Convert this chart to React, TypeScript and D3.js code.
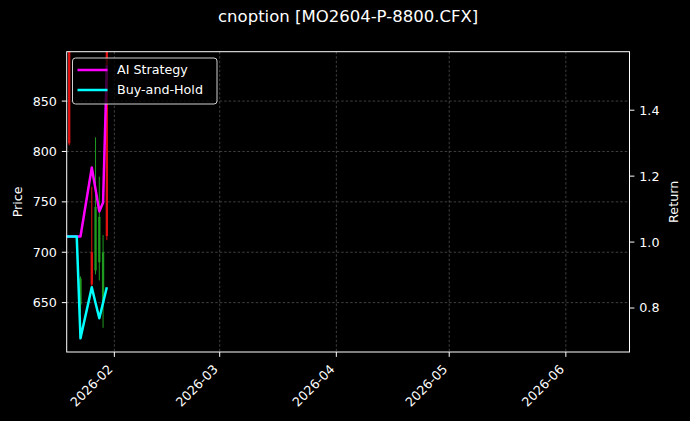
import * as d3 from "d3"

// daily series (trading days)
const dates = [
  "2026-01-19", "2026-01-20", "2026-01-21", "2026-01-22", "2026-01-23",
  "2026-01-26", "2026-01-27", "2026-01-28", "2026-01-29", "2026-01-30",
]
const aiStrategy = [1.017, 1.017, 1.017, 1.017, 1.017, 1.226, 1.16, 1.093, 1.12, 1.536]
const buyHold = [1.017, 1.017, 1.017, 1.017, 0.708, 0.863, 0.815, 0.769, 0.816, 0.863]

// candles (price axis)
const candleDates = ["2026-01-20", "2026-01-23", "2026-01-26", "2026-01-27", "2026-01-28", "2026-01-29", "2026-01-30"]
const openP = [905, 648, 700, 682, 690, 650, 905]
const highP = [915, 676, 765, 814, 775, 717, 915]
const lowP = [806, 640, 666, 678, 672, 625, 712]
const closeP = [808, 674, 668, 745, 735, 700, 716]

const xLimits = ["2026-01-19T08:00", "2026-06-17T22:00"]
const priceLimits = [601, 899]

const W = 690
const H = 421
const m = { top: 51.7, right: 60.5, bottom: 69, left: 66.7 }
const font = "DejaVu Sans, sans-serif"
const tickLen = 4.9
const tickPad = 9.8

export default function App() {
  const x = d3
    .scaleTime()
    .domain(xLimits.map((d) => new Date(d)))
    .range([m.left, W - m.right])

  const yL = d3.scaleLinear().domain(priceLimits).range([H - m.bottom, m.top])

  const allRet = [...aiStrategy, ...buyHold]
  const rMin = d3.min(allRet) ?? 0
  const rMax = d3.max(allRet) ?? 1
  const pad = (rMax - rMin) * 0.05
  const yR = d3.scaleLinear().domain([rMin - pad, rMax + pad]).range([H - m.bottom, m.top])

  const xTicks = d3.timeMonth.range(x.domain()[0], x.domain()[1])
  const yLTicks = yL.ticks(6)
  const yRTicks = yR.ticks(5)

  const line = (vals: number[]) =>
    d3
      .line<number>()
      .x((_, i) => x(new Date(dates[i])))
      .y((d) => yR(d))(vals) ?? ""

  const x0 = m.left
  const x1 = W - m.right
  const y0 = m.top
  const y1 = H - m.bottom
  const bodyW = 2.3

  return (
    <svg
      width={W}
      height={H}
      style={{ position: "absolute", left: 0, top: 0, background: "#000" }}
      fontFamily={font}
    >
      <defs>
        <clipPath id="plot">
          <rect x={x0} y={y0} width={x1 - x0} height={y1 - y0} />
        </clipPath>
      </defs>
      <rect x={0} y={0} width={W} height={H} fill="#000" />

      <text x={(x0 + x1) / 2} y={22} fill="#fff" fontSize={16.5} textAnchor="middle">
        cnoption [MO2604-P-8800.CFX]
      </text>

      {/* grid */}
      {yLTicks.map((d) => (
        <line key={"gy" + d} x1={x0} x2={x1} y1={yL(d)} y2={yL(d)} stroke="#5a5a5a" strokeWidth={0.7} strokeDasharray="2.5,2" />
      ))}
      {xTicks.map((d, i) => (
        <line key={"gx" + i} x1={x(d)} x2={x(d)} y1={y0} y2={y1} stroke="#5a5a5a" strokeWidth={0.7} strokeDasharray="2.5,2" />
      ))}

      {/* candles */}
      <g clipPath="url(#plot)">
        {candleDates.map((d, i) => {
          const cx = x(new Date(d))
          const up = closeP[i] >= openP[i]
          const col = up ? "#1f9a1f" : "#e01010"
          return (
            <g key={"c" + i}>
              <line x1={cx} x2={cx} y1={yL(highP[i])} y2={yL(lowP[i])} stroke={col} strokeWidth={1} />
              <rect
                x={cx - bodyW / 2}
                y={yL(Math.max(openP[i], closeP[i]))}
                width={bodyW}
                height={Math.abs(yL(openP[i]) - yL(closeP[i]))}
                fill={col}
              />
            </g>
          )
        })}
        <path d={line(aiStrategy)} fill="none" stroke="#ff00ff" strokeWidth={2.5} strokeLinejoin="round" />
        <path d={line(buyHold)} fill="none" stroke="#00ffff" strokeWidth={2.5} strokeLinejoin="round" />
      </g>

      {/* frame */}
      <rect x={x0} y={y0} width={x1 - x0} height={y1 - y0} fill="none" stroke="#fff" strokeWidth={1} />

      {/* left axis */}
      {yLTicks.map((d) => (
        <g key={"yl" + d}>
          <line x1={x0 - tickLen} x2={x0} y1={yL(d)} y2={yL(d)} stroke="#fff" />
          <text x={x0 - tickPad} y={yL(d)} dy="0.35em" fill="#fff" fontSize={12.7} textAnchor="end">
            {d}
          </text>
        </g>
      ))}
      <text
        transform={`translate(${21.5},${(y0 + y1) / 2}) rotate(-90)`}
        fill="#fff"
        fontSize={12.7}
        textAnchor="middle"
      >
        Price
      </text>

      {/* right axis */}
      {yRTicks.map((d) => (
        <g key={"yr" + d}>
          <line x1={x1} x2={x1 + tickLen} y1={yR(d)} y2={yR(d)} stroke="#fff" />
          <text x={x1 + tickPad} y={yR(d)} dy="0.35em" fill="#fff" fontSize={12.7} textAnchor="start">
            {d.toFixed(1)}
          </text>
        </g>
      ))}
      <text
        transform={`translate(${677.5},${(y0 + y1) / 2}) rotate(-90)`}
        fill="#fff"
        fontSize={12.7}
        textAnchor="middle"
      >
        Return
      </text>

      {/* x axis */}
      {xTicks.map((d, i) => (
        <g key={"xt" + i}>
          <line x1={x(d)} x2={x(d)} y1={y1} y2={y1 + tickLen} stroke="#fff" />
          <text
            transform={`translate(${x(d) - 1},${y1 + 18}) rotate(-45)`}
            fill="#fff"
            fontSize={12.7}
            textAnchor="end"
          >
            {d3.timeFormat("%Y-%m")(d)}
          </text>
        </g>
      ))}

      {/* legend */}
      <g>
        <rect x={72.5} y={58} width={144.5} height={46} rx={3} fill="#000" fillOpacity={0.75} stroke="#d0d0d0" strokeWidth={1} />
        <line x1={77.5} x2={107.5} y1={70} y2={70} stroke="#ff00ff" strokeWidth={2.5} />
        <text x={117} y={70} dy="0.35em" fill="#fff" fontSize={12.7}>
          AI Strategy
        </text>
        <line x1={77.5} x2={107.5} y1={90} y2={90} stroke="#00ffff" strokeWidth={2.5} />
        <text x={117} y={90} dy="0.35em" fill="#fff" fontSize={12.7}>
          Buy-and-Hold
        </text>
      </g>
    </svg>
  )
}
